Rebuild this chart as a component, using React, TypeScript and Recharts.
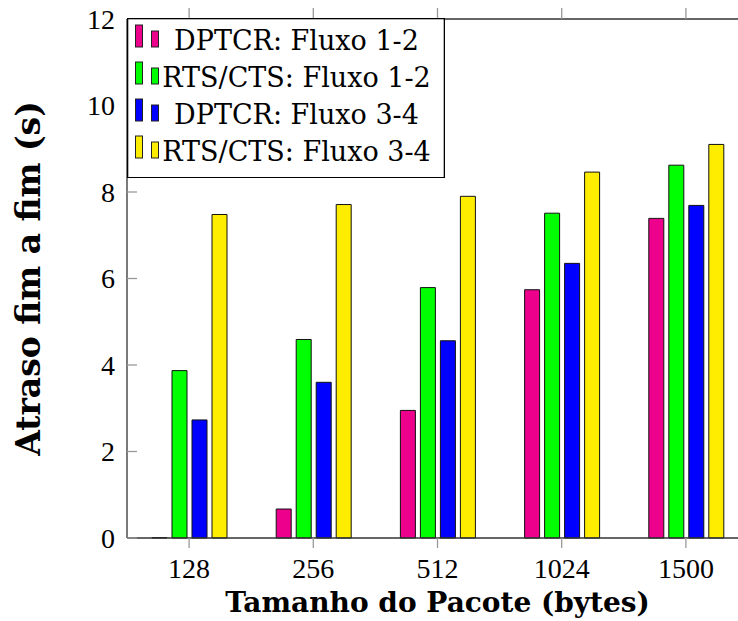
import { BarChart, Bar, XAxis, YAxis } from 'recharts'

const categories = ['128', '256', '512', '1024', '1500']
const dptcr12 = [0.01, 0.67, 2.95, 5.74, 7.39]
const rts12 = [3.87, 4.59, 5.79, 7.51, 8.62]
const dptcr34 = [2.73, 3.6, 4.56, 6.35, 7.69]
const rts34 = [7.48, 7.71, 7.9, 8.46, 9.1]
const yTicks = [0, 2, 4, 6, 8, 10, 12]

const seriesNames = ['DPTCR: Fluxo 1-2', 'RTS/CTS: Fluxo 1-2', 'DPTCR: Fluxo 3-4', 'RTS/CTS: Fluxo 3-4']
const colors = ['#EC008C', '#00FF00', '#0000FF', '#FFED00']

const data = categories.map((c, i) => ({
    size: c,
    dptcr12: dptcr12[i],
    rts12: rts12[i],
    dptcr34: dptcr34[i],
    rts34: rts34[i],
}))

// serif faces are not all available, the browser falls back where needed
const tickFont = 'Liberation Serif, Times New Roman, Times, serif'
const textFont = 'DejaVu Serif, Liberation Serif, serif'
const tickColor = '#999'
const axisColor = '#333'

const YTick = ({ x, y, payload }: any) => (
    <g>
        <line x1={x} x2={x + 10} y1={y} y2={y} stroke={tickColor} strokeWidth={1.3} />
        <text x={x - 12} y={y + 9.5} textAnchor="end" style={{ fontFamily: tickFont }} fontSize={28} fill="#000">
            {payload.value}
        </text>
    </g>
)

const RightTick = ({ x, y }: any) => (
    <line x1={x - 10} x2={x} y1={y} y2={y} stroke={tickColor} strokeWidth={1.3} />
)

const XTick = ({ x, y, payload }: any) => (
    <g>
        <line x1={x} x2={x} y1={y} y2={y + 10} stroke={tickColor} strokeWidth={1.3} />
        <text x={x} y={y + 40} textAnchor="middle" style={{ fontFamily: tickFont }} fontSize={28} fill="#000">
            {payload.value}
        </text>
    </g>
)

const TopTick = ({ x, y }: any) => (
    <line x1={x} x2={x} y1={y} y2={y - 11} stroke={tickColor} strokeWidth={1.3} />
)

function LegendBox() {
    return (
        <svg width={318} height={160} style={{ position: 'absolute', left: 127, top: 18 }}>
            <rect x={0.65} y={0.65} width={316.7} height={159} fill="#fff" stroke="#000" strokeWidth={1.3} />
            {seriesNames.map((name, i) => {
                const base = 32 + 37 * i
                return (
                    <g key={name}>
                        <rect x={8.5} y={base - 25} width={7} height={22} fill={colors[i]} stroke="#222" strokeWidth={1} />
                        <rect x={24.5} y={base - 19} width={7} height={16} fill={colors[i]} stroke="#222" strokeWidth={1} />
                        <text x={169.5} y={base} textAnchor="middle" style={{ fontFamily: textFont }} fontSize={27} fill="#000">
                            {name}
                        </text>
                    </g>
                )
            })}
        </svg>
    )
}

export default function App() {
    return (
        <div
            style={{
                position: 'fixed',
                left: 0,
                top: 0,
                width: 738,
                height: 621,
                overflow: 'hidden',
                background: '#fff',
            }}
        >
            <BarChart
                width={760}
                height={621}
                data={data}
                margin={{ top: 0, right: 0, bottom: 0, left: 0 }}
                barSize={15}
                barGap={5}
            >
                <XAxis
                    dataKey="size"
                    height={83}
                    interval={0}
                    tickSize={0}
                    tickMargin={0}
                    tickLine={false}
                    tick={<XTick />}
                    axisLine={{ stroke: axisColor, strokeWidth: 1.3 }}
                    label={{
                        value: 'Tamanho do Pacote (bytes)',
                        position: 'insideBottom',
                        offset: 9,
                        style: { fontFamily: textFont },
                        fontWeight: 'bold',
                        fontSize: 28,
                        fill: '#000',
                    }}
                />
                <XAxis
                    xAxisId="top"
                    dataKey="size"
                    orientation="top"
                    height={19}
                    interval={0}
                    tickSize={0}
                    tickMargin={0}
                    tickLine={false}
                    tick={<TopTick />}
                    axisLine={{ stroke: axisColor, strokeWidth: 1.3 }}
                />
                <YAxis
                    width={127}
                    domain={[0, 12]}
                    ticks={yTicks}
                    tickSize={0}
                    tickMargin={0}
                    tickLine={false}
                    tick={<YTick />}
                    axisLine={{ stroke: axisColor, strokeWidth: 1.3 }}
                    label={{
                        value: 'Atraso fim a fim (s)',
                        angle: -90,
                        position: 'insideLeft',
                        offset: 28,
                        style: { textAnchor: 'middle', fontFamily: textFont },
                        fontWeight: 'bold',
                        fontSize: 33,
                        fill: '#000',
                    }}
                />
                <YAxis
                    yAxisId="right"
                    orientation="right"
                    width={12}
                    domain={[0, 12]}
                    ticks={yTicks}
                    tickSize={0}
                    tickMargin={0}
                    tickLine={false}
                    tick={<RightTick />}
                    axisLine={{ stroke: axisColor, strokeWidth: 1.3 }}
                />
                <Bar dataKey="dptcr12" fill={colors[0]} stroke="#111" strokeWidth={1} isAnimationActive={false} />
                <Bar dataKey="rts12" fill={colors[1]} stroke="#111" strokeWidth={1} isAnimationActive={false} />
                <Bar dataKey="dptcr34" fill={colors[2]} stroke="#111" strokeWidth={1} isAnimationActive={false} />
                <Bar dataKey="rts34" fill={colors[3]} stroke="#111" strokeWidth={1} isAnimationActive={false} />
            </BarChart>
            <LegendBox />
        </div>
    )
}
